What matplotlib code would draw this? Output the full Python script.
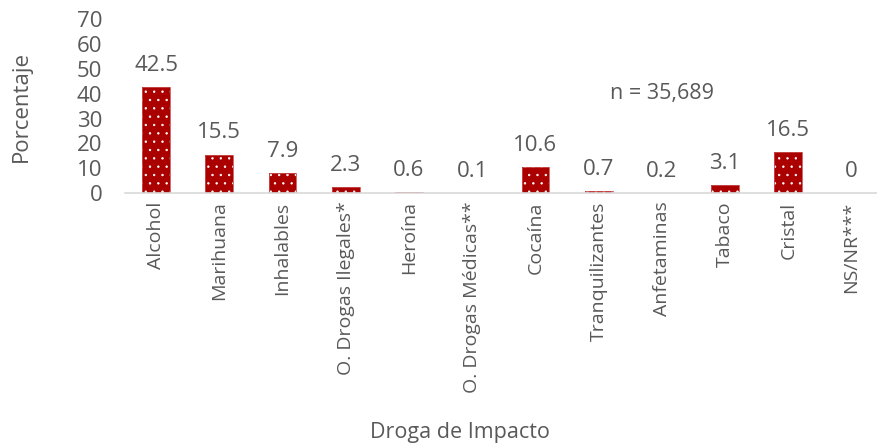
import matplotlib
matplotlib.use("Agg")
import matplotlib.pyplot as plt

plt.rcParams['font.family'] = ['Open Sans', 'DejaVu Sans']
plt.rcParams['hatch.linewidth'] = 0.5

# data
drogas = ['Alcohol', 'Marihuana', 'Inhalables', 'O. Drogas Ilegales*', 'Heroína',
          'O. Drogas Médicas**', 'Cocaína', 'Tranquilizantes', 'Anfetaminas',
          'Tabaco', 'Cristal', 'NS/NR***']
porcentajes = [42.5, 15.5, 7.9, 2.3, 0.6, 0.1, 10.6, 0.7, 0.2, 3.1, 16.5, 0]
etiquetas = ['42.5', '15.5', '7.9', '2.3', '0.6', '0.1', '10.6', '0.7', '0.2', '3.1', '16.5', '0']

gris = '#595959'
rojo = '#AA0000'

fig = plt.figure(figsize=(8.77, 4.45), dpi=100)
ax = fig.add_axes([0.142, 0.566, 0.865, 0.391])

x = range(len(drogas))
# bars with white dot pattern
ax.bar(x, porcentajes, width=0.44, color=rojo, edgecolor='white', linewidth=0, hatch='..')
ax.bar(x, porcentajes, width=0.44, fill=False, edgecolor='#C85050', linewidth=0.6)

for i, v in enumerate(porcentajes):
    ax.annotate(etiquetas[i], (i, v), xytext=(0, 8), textcoords='offset points',
                ha='center', va='bottom', fontsize=16, color=gris)

ax.text(0.709, 0.575, 'n = 35,689', transform=ax.transAxes, ha='center', va='center',
        fontsize=15.5, color=gris)

ax.set_xlim(-0.5, 11.5)
ax.set_ylim(0, 70)
ax.set_yticks(range(0, 71, 10))
ax.set_xticks(list(x))
ax.set_xticklabels(drogas, rotation=90, fontsize=14, color=gris)
ax.tick_params(axis='y', labelsize=16, labelcolor=gris, length=0, pad=16)
ax.tick_params(axis='x', length=0, pad=6)

for s in ['top', 'right', 'left']:
    ax.spines[s].set_visible(False)
ax.spines['bottom'].set_color('#D9D9D9')
ax.spines['bottom'].set_linewidth(1.2)

ax.set_ylabel('Porcentaje', fontsize=16, color=gris)
ax.yaxis.set_label_coords(-0.122, 0.5)
fig.text(0.524, 0.028, 'Droga de Impacto', ha='center', va='center', fontsize=15.5, color=gris)

fig.savefig('out.png', dpi=100)
